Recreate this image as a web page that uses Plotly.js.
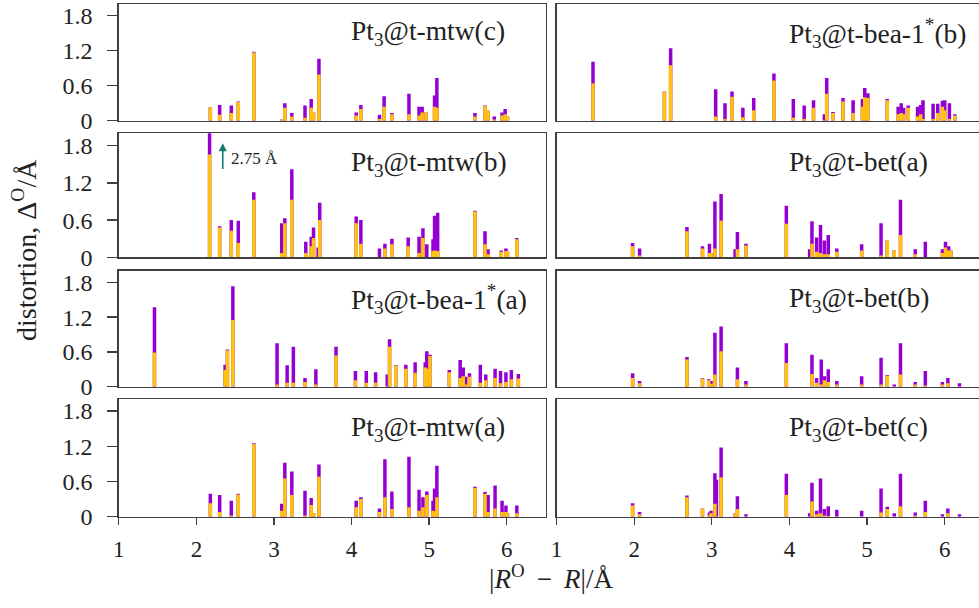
<!DOCTYPE html>
<html>
<head>
<meta charset="utf-8">
<script src="https://cdn.plot.ly/plotly-3.0.1.min.js"></script>
<style>html,body{margin:0;padding:0;background:#fff}#chart{width:979px;height:608px}</style>
</head>
<body>
<div id="chart"></div>
<script>
// ---------------- data ----------------
const titles = ["Pt<sub>3</sub>@t-mtw(c)", "Pt<sub>3</sub>@t-bea-1<sup>*</sup>(b)",
                "Pt<sub>3</sub>@t-mtw(b)", "Pt<sub>3</sub>@t-bet(a)",
                "Pt<sub>3</sub>@t-bea-1<sup>*</sup>(a)", "Pt<sub>3</sub>@t-bet(b)",
                "Pt<sub>3</sub>@t-mtw(a)", "Pt<sub>3</sub>@t-bet(c)"];
const xTicks = [1, 2, 3, 4, 5, 6];
const yTicks = [0, 0.6, 1.2, 1.8];
const yTickText = ["0", "0.6", "1.2", "1.8"];
const xTitle = "|<i>R</i><sup>O</sup>\u2009 − \u2009<i>R</i>|/Å";
const yTitle = "distortion, Δ<sup>O</sup>/Å";
const arrowNote = "2.75 Å";

// Pt3@t-mtw(c)
const mtwC_x      = [2.18,2.30,2.45,2.54,2.74,3.10,3.14,3.23,3.40,3.48,3.51,3.58,4.06,4.12,4.36,4.42,4.52,4.74,4.87,4.91,4.96,5.07,5.10,5.59,5.72,5.76,5.84,5.94,5.98,6.01];
const mtwC_total  = [0.23,0.27,0.26,0.33,1.18,0.02,0.30,0.13,0.26,0.37,0.14,1.06,0.14,0.27,0.10,0.42,0.13,0.46,0.24,0.24,0.15,0.43,0.73,0.13,0.26,0.17,0.07,0.14,0.20,0.07];
const mtwC_orange = [0.23,0.10,0.13,0.32,1.17,0.02,0.22,0.07,0.05,0.22,0.14,0.79,0.09,0.20,0.03,0.24,0.11,0.11,0.09,0.14,0.15,0.24,0.22,0.07,0.25,0.17,0.02,0.09,0.11,0.07];

// Pt3@t-bea-1*(b)
const beaB_x      = [1.47,2.39,2.47,3.05,3.17,3.26,3.40,3.54,3.80,4.05,4.19,4.31,4.45,4.48,4.56,4.69,4.82,4.94,4.97,5.01,5.26,5.40,5.44,5.47,5.53,5.65,5.69,5.72,5.85,5.91,5.97,6.00,6.06,6.13];
const beaB_total  = [1.01,0.50,1.24,0.54,0.30,0.50,0.22,0.39,0.81,0.37,0.26,0.35,0.11,0.73,0.15,0.39,0.35,0.37,0.56,0.47,0.37,0.24,0.30,0.22,0.26,0.24,0.27,0.35,0.29,0.29,0.34,0.35,0.30,0.11];
const beaB_orange = [0.64,0.50,0.95,0.07,0.03,0.41,0.06,0.18,0.69,0.05,0.03,0.22,0.00,0.46,0.13,0.33,0.13,0.24,0.40,0.39,0.35,0.11,0.13,0.11,0.22,0.07,0.11,0.03,0.03,0.13,0.24,0.18,0.03,0.09];

// Pt3@t-mtw(b)
const mtwB_x      = [2.17,2.30,2.45,2.54,2.74,3.10,3.14,3.23,3.41,3.48,3.51,3.57,3.59,4.06,4.12,4.36,4.43,4.52,4.73,4.87,4.92,4.97,5.05,5.07,5.11,5.59,5.72,5.76,5.93,5.99,6.01,6.13];
const mtwB_total  = [2.75,0.50,0.60,0.59,1.05,0.55,0.63,1.42,0.25,0.33,0.48,0.16,0.88,0.66,0.60,0.14,0.22,0.30,0.32,0.33,0.47,0.21,0.29,0.67,0.72,0.75,0.42,0.13,0.11,0.14,0.09,0.31];
const mtwB_orange = [1.66,0.48,0.43,0.23,0.93,0.07,0.55,0.93,0.07,0.18,0.31,0.00,0.60,0.55,0.22,0.00,0.14,0.21,0.18,0.07,0.31,0.00,0.10,0.11,0.10,0.74,0.21,0.05,0.09,0.10,0.09,0.29];

// Pt3@t-bet(a)
const betA_x      = [1.98,2.07,2.68,2.88,2.97,2.99,3.04,3.12,3.30,3.33,3.44,3.96,4.26,4.29,4.35,4.40,4.45,4.50,4.61,4.93,5.18,5.26,5.35,5.43,5.62,5.75,5.97,6.01,6.05,6.08];
const betA_total  = [0.23,0.14,0.49,0.18,0.22,0.07,0.90,1.02,0.13,0.41,0.22,0.83,0.13,0.58,0.32,0.52,0.27,0.36,0.14,0.21,0.55,0.27,0.11,0.93,0.13,0.25,0.13,0.25,0.18,0.11];
const betA_orange = [0.18,0.03,0.42,0.14,0.07,0.07,0.14,0.59,0.00,0.13,0.19,0.54,0.00,0.22,0.09,0.07,0.05,0.05,0.09,0.11,0.03,0.27,0.11,0.36,0.05,0.00,0.07,0.16,0.11,0.11];

// Pt3@t-bea-1*(a)
const beaA_x      = [1.46,2.37,2.40,2.47,3.04,3.17,3.25,3.40,3.54,3.80,4.05,4.19,4.31,4.46,4.49,4.57,4.70,4.82,4.95,4.97,5.01,5.26,5.40,5.44,5.47,5.52,5.66,5.73,5.85,5.92,5.99,6.06,6.15];
const beaA_total  = [1.37,0.38,0.64,1.73,0.75,0.37,0.69,0.15,0.30,0.69,0.27,0.27,0.25,0.21,0.82,0.37,0.38,0.42,0.42,0.61,0.55,0.29,0.46,0.33,0.17,0.23,0.38,0.21,0.31,0.27,0.25,0.29,0.22];
const beaA_orange = [0.59,0.29,0.63,1.15,0.04,0.07,0.07,0.08,0.04,0.54,0.11,0.07,0.07,0.00,0.69,0.36,0.31,0.24,0.33,0.31,0.53,0.25,0.15,0.18,0.04,0.17,0.07,0.11,0.15,0.06,0.08,0.13,0.14];

// Pt3@t-bet(b)
const betB_x      = [1.98,2.07,2.68,2.88,2.96,2.99,3.04,3.12,3.33,3.44,3.96,4.29,4.35,4.41,4.45,4.50,4.61,4.93,5.18,5.26,5.35,5.43,5.62,5.75,5.97,6.04,6.19];
const betB_total  = [0.23,0.10,0.51,0.15,0.13,0.10,0.93,1.04,0.33,0.10,0.75,0.55,0.15,0.47,0.18,0.30,0.10,0.18,0.50,0.20,0.04,0.75,0.08,0.27,0.08,0.15,0.06];
const betB_orange = [0.15,0.06,0.47,0.14,0.11,0.05,0.21,0.61,0.13,0.04,0.41,0.22,0.07,0.04,0.11,0.08,0.04,0.04,0.04,0.19,0.00,0.21,0.04,0.02,0.04,0.06,0.00];

// Pt3@t-mtw(a)
const mtwA_x      = [2.18,2.30,2.45,2.54,2.74,3.10,3.14,3.23,3.40,3.48,3.51,3.58,4.06,4.12,4.36,4.43,4.52,4.74,4.87,4.92,4.97,5.05,5.07,5.10,5.59,5.72,5.76,5.85,5.94,5.99,6.01,6.13];
const mtwA_total  = [0.39,0.37,0.27,0.39,1.25,0.22,0.92,0.77,0.44,0.32,0.06,0.89,0.27,0.33,0.14,0.98,0.43,1.02,0.46,0.33,0.43,0.27,0.48,0.87,0.51,0.42,0.37,0.53,0.27,0.19,0.06,0.19];
const mtwA_orange = [0.23,0.08,0.02,0.38,1.24,0.10,0.65,0.37,0.02,0.20,0.06,0.68,0.16,0.30,0.08,0.33,0.13,0.16,0.10,0.16,0.37,0.10,0.08,0.33,0.49,0.39,0.08,0.14,0.08,0.08,0.06,0.06];

// Pt3@t-bet(c)
const betC_x      = [1.98,2.07,2.68,2.88,2.97,2.99,3.04,3.06,3.12,3.30,3.33,3.44,3.96,4.26,4.29,4.35,4.40,4.45,4.50,4.61,4.93,5.18,5.26,5.35,5.43,5.62,5.75,5.97,6.04,6.19];
const betC_total  = [0.23,0.08,0.36,0.14,0.07,0.10,0.74,0.63,1.18,0.06,0.35,0.04,0.73,0.06,0.58,0.10,0.65,0.13,0.18,0.12,0.10,0.48,0.17,0.06,0.73,0.07,0.27,0.04,0.14,0.04];
const betC_orange = [0.19,0.04,0.33,0.14,0.02,0.06,0.22,0.00,0.67,0.06,0.13,0.00,0.37,0.00,0.26,0.04,0.06,0.02,0.01,0.00,0.00,0.07,0.13,0.00,0.18,0.02,0.08,0.00,0.06,0.00];

// ---------------- build ----------------
const panelData = [
  [mtwC_x, mtwC_total, mtwC_orange], [beaB_x, beaB_total, beaB_orange],
  [mtwB_x, mtwB_total, mtwB_orange], [betA_x, betA_total, betA_orange],
  [beaA_x, beaA_total, beaA_orange], [betB_x, betB_total, betB_orange],
  [mtwA_x, mtwA_total, mtwA_orange], [betC_x, betC_total, betC_orange]
];

const W = 979, H = 608;
const PURPLE = "#9400d3", ORANGE = "#ffc20e";
const LINE = "#404040";
const FONT = "Liberation Serif, Times New Roman, serif";
// pixel frames (top, bottom) of rows, (left, right) of columns
const rowPx = [[4, 120.7], [133.3, 257.3], [270.7, 386.7], [399.3, 516.7]];
const colPx = [[118.8, 545.5], [556.5, 979]];
const colRange = [[1, 6.5], [1, 1 + (979 - 557.3) / 77.5]];

const traces = [];
const layout = {
  width: W, height: H,
  margin: {l: 0, r: 0, t: 0, b: 0},
  paper_bgcolor: "#fff", plot_bgcolor: "#fff",
  showlegend: false, barmode: "overlay",
  font: {family: FONT, color: "#222"},
  annotations: []
};

panelData.forEach((p, i) => {
  const r = Math.floor(i / 2), c = i % 2, k = i + 1;
  const xa = "x" + (k === 1 ? "" : k), ya = "y" + (k === 1 ? "" : k);
  traces.push({type: "bar", x: p[0], y: p[1], width: 0.045, marker: {color: PURPLE, line: {width: 0}},
               xaxis: xa, yaxis: ya, hoverinfo: "x+y"});
  traces.push({type: "bar", x: p[0], y: p[2], width: 0.045, marker: {color: ORANGE, line: {width: 0}},
               xaxis: xa, yaxis: ya, hoverinfo: "x+y"});
  const bottom = r === 3;
  layout["xaxis" + (k === 1 ? "" : k)] = {
    domain: [colPx[c][0] / W, colPx[c][1] / W], range: colRange[c], anchor: ya,
    showline: true, mirror: true, linecolor: LINE, linewidth: 1.5,
    showgrid: false, zeroline: false, fixedrange: true,
    tickvals: xTicks, ticks: bottom ? "outside" : "", ticklen: 7, tickwidth: 1.3, tickcolor: LINE,
    showticklabels: bottom, ticklabelstandoff: 4,
    tickfont: {family: FONT, size: 23, color: "#222"}
  };
  layout["yaxis" + (k === 1 ? "" : k)] = {
    domain: [(H - rowPx[r][1]) / H, (H - rowPx[r][0]) / H], range: [0, 2.0], anchor: xa,
    showline: true, mirror: c === 0, linecolor: LINE, linewidth: 1.5,
    showgrid: false, zeroline: false, fixedrange: true,
    tickvals: yTicks, ticktext: yTickText, ticks: c === 0 ? "outside" : "", ticklen: 10, tickwidth: 1.3, tickcolor: LINE,
    showticklabels: c === 0, ticklabelstandoff: 10,
    tickfont: {family: FONT, size: 24, color: "#222"}
  };
  layout.annotations.push({
    text: titles[i], xref: xa, yref: ya + " domain", x: 3.97, y: 0.755,
    xanchor: "left", yanchor: "middle", showarrow: false,
    font: {family: FONT, size: 27.5, color: "#222"}
  });
});

// arrow marking the clipped bar in Pt3@t-mtw(b)
layout.annotations.push({
  text: "", xref: "x3", yref: "y3", x: 2.34, y: 1.84, ax: 2.34, ay: 1.40,
  axref: "x3", ayref: "y3", showarrow: true, arrowhead: 2, arrowsize: 1, arrowwidth: 1.6,
  arrowcolor: "#137a6b"
});
layout.annotations.push({
  text: arrowNote, xref: "x3", yref: "y3", x: 2.42, y: 1.60, xanchor: "left", yanchor: "middle",
  showarrow: false, font: {family: FONT, size: 17, color: "#222"}
});
// axis titles
layout.annotations.push({
  text: xTitle, xref: "paper", yref: "paper", x: 551 / W, y: (H - 577) / H,
  xanchor: "center", yanchor: "middle", showarrow: false,
  font: {family: FONT, size: 27, color: "#222"}
});
layout.annotations.push({
  text: yTitle, xref: "paper", yref: "paper", x: 24 / W, y: (H - 250) / H, textangle: -90,
  xanchor: "center", yanchor: "middle", showarrow: false,
  font: {family: FONT, size: 28, color: "#222"}
});

Plotly.newPlot("chart", traces, layout, {displayModeBar: false, staticPlot: true});
</script>
</body>
</html>
